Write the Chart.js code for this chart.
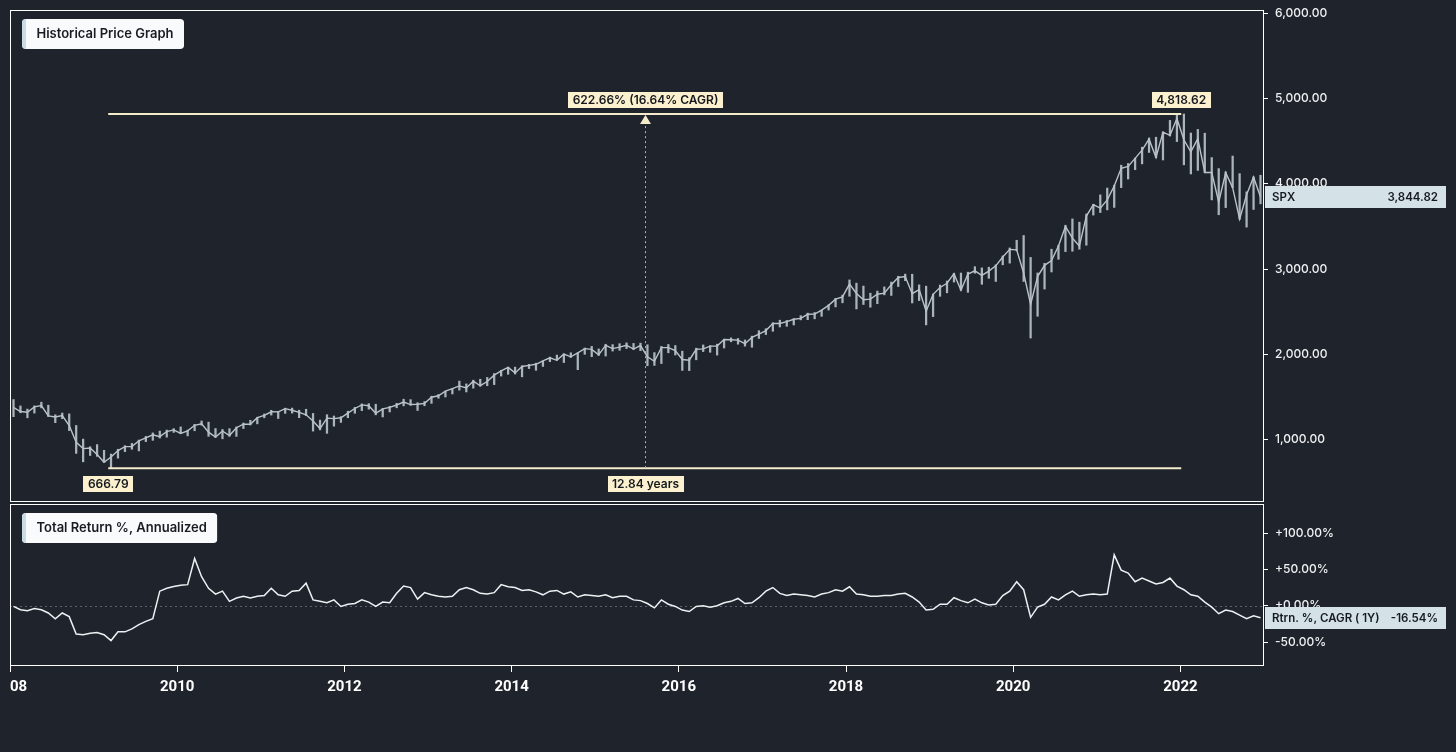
<!DOCTYPE html>
<html><head><meta charset="utf-8">
<script src="https://cdn.jsdelivr.net/npm/chart.js@4.4.1/dist/chart.umd.min.js"></script>
<style>
html,body{margin:0;padding:0;background:#1f232b;width:1456px;height:752px;overflow:hidden;}
canvas{position:absolute;left:10px;}
#c1{top:0;width:1446px;height:503px;}
#c2{top:503px;width:1446px;height:249px;}
</style></head><body>
<canvas id="c1" width="1446" height="503"></canvas>
<canvas id="c2" width="1446" height="249"></canvas>
<script>
// ---------------- DATA ----------------
const YEARS = [2008,2009,2010,2011,2012,2013,2014,2015,2016,2017,2018,2019,2020,2021,2022];
const X_TICKS = [2008,2010,2012,2014,2016,2018,2020,2022];
const PRICE_TICKS = [1000,2000,3000,4000,5000,6000];
const RETURN_TICKS = [-50,0,50,100];

// SPX monthly close (Jan..Dec per row)
const CLOSE = [
 1378,1330,1322,1385,1400,1280,1267,1283,1166,969,896,903,
 826,735,798,873,919,919,987,1021,1057,1036,1096,1115,
 1074,1104,1169,1187,1089,1031,1102,1049,1141,1183,1181,1258,
 1286,1327,1326,1364,1345,1321,1292,1219,1131,1253,1247,1258,
 1312,1366,1408,1398,1310,1362,1379,1407,1441,1412,1416,1426,
 1498,1515,1569,1598,1631,1606,1686,1633,1682,1757,1806,1848,
 1783,1859,1872,1884,1924,1960,1931,2003,1972,2018,2068,2059,
 1995,2105,2068,2086,2107,2063,2104,1972,1920,2079,2080,2044,
 1940,1932,2060,2065,2097,2099,2174,2171,2168,2126,2199,2239,
 2279,2364,2363,2384,2412,2423,2470,2472,2519,2575,2648,2674,
 2824,2714,2641,2648,2705,2718,2816,2902,2914,2712,2760,2507,
 2704,2784,2834,2946,2752,2942,2980,2926,2977,3038,3141,3231,
 3226,2954,2585,2912,3044,3100,3271,3500,3363,3270,3622,3756,
 3714,3811,3973,4181,4204,4298,4395,4523,4308,4605,4567,4766,
 4516,4374,4530,4132,4132,3785,4130,3955,3586,3872,4080,3844.82
];
// SPX monthly high
const HIGH = [
 1471,1396,1359,1397,1440,1405,1292,1313,1303,1167,1007,918,
 943,876,832,888,930,957,996,1039,1080,1101,1113,1130,
 1150,1112,1180,1220,1206,1131,1120,1130,1150,1196,1227,1263,
 1302,1345,1333,1370,1371,1346,1357,1308,1230,1293,1278,1270,
 1334,1379,1420,1423,1416,1365,1392,1427,1475,1470,1434,1448,
 1510,1530,1570,1598,1687,1654,1698,1709,1730,1776,1814,1850,
 1851,1867,1884,1897,1924,1968,1992,2006,2019,2019,2075,2094,
 2064,2119,2115,2126,2135,2129,2132,2113,2021,2094,2116,2104,
 2038,1962,2073,2111,2103,2120,2178,2194,2187,2169,2214,2278,
 2301,2371,2401,2398,2418,2454,2484,2491,2519,2582,2657,2695,
 2873,2835,2801,2718,2742,2791,2848,2916,2941,2940,2815,2800,
 2708,2813,2860,2950,2954,2964,3028,3014,3022,3050,3154,3248,
 3338,3394,3137,2955,3068,3233,3280,3514,3588,3550,3646,3760,
 3870,3950,3983,4218,4238,4302,4429,4537,4546,4608,4743,4808,
 4818,4595,4637,4593,4307,4178,4140,4325,4119,3906,4081,4100
];
// SPX monthly low
const LOW = [
 1270,1316,1257,1312,1373,1272,1200,1247,1107,840,741,815,
 805,735,667,784,860,888,869,978,993,1020,1030,1086,
 1071,1045,1105,1170,1040,1028,1011,1040,1039,1131,1173,1186,
 1257,1289,1249,1309,1312,1258,1282,1101,1115,1075,1159,1203,
 1258,1310,1341,1358,1292,1267,1326,1374,1397,1403,1343,1398,
 1426,1486,1501,1536,1581,1560,1604,1627,1633,1646,1746,1767,
 1770,1737,1834,1814,1859,1915,1930,1905,1964,1821,2001,1973,
 1988,1981,2039,2048,2068,2056,2044,1867,1871,1893,2019,1993,
 1812,1810,1937,2033,2025,1992,2075,2148,2120,2097,2084,2187,
 2233,2271,2322,2329,2345,2405,2407,2417,2446,2520,2557,2605,
 2682,2533,2585,2553,2594,2698,2691,2796,2864,2603,2631,2346,
 2443,2681,2722,2848,2750,2728,2952,2822,2892,2855,3050,3070,
 3214,2855,2192,2447,2766,2966,3115,3205,3209,3233,3280,3633,
 3663,3694,3723,3955,4056,4165,4233,4367,4306,4279,4560,4495,
 4222,4115,4157,4129,3811,3637,3721,3955,3584,3492,3699,3765
];
// 1-year total return %, annualized (monthly)
const RETURNS = [
 -1,-5.5,-7,-4,-5.5,-10,-18,-10,-15,-39,-40,-38,
 -37,-40,-48,-36,-36,-32,-26,-21.5,-18,20,24,26.5,
 28,29,65,40,24,16,20,6,10.5,13,10.5,13,
 14,24,15,13,20,21,31,8,6,4,8,-1,
 2,3,8,5,-1,5,4,17,27,25,9,18,
 15,13,12,13,22,25,22,17,16,18,29,26,
 25,21,22,19,15,20,21,16,19,12,15,14,
 13,15,11,13,13,8,7,3,-3,8,2,-1,
 -6,-8,-1,0,-2,0,4,6,10,3,4,11,
 20,25,17,14,16,15,14,12,16,18,22,20,
 26,16,15,13,13,14,14,16,17,12,5,-6,
 -5,2,2,11,7,4,9,4,1,2,14,20,
 33,22,-16,-2,2,12,8,15,20,13,15,16,
 15,16,70,49,45,33,38,34,30,32,38,27,
 22,15,13,5,-2,-11,-6,-8,-13,-18,-14,-16.54
];

const LOW_DATE = 2009.175, LOW_VALUE = 666.79;
const HIGH_DATE = 2022.01, HIGH_VALUE = 4818.62;
const GROWTH_LABEL = '622.66% (16.64% CAGR)';
const SPAN_LABEL = '12.84 years';
const LAST_PRICE = 3844.82, LAST_RETURN = -16.54;
const X_MIN = 2008.0, X_MAX = 2023.0;

// ---------------- HELPERS ----------------
const xOf = i => YEARS[0] + (i + 0.5) / 12;
const fmtPrice = v => v.toLocaleString('en-US',{minimumFractionDigits:2,maximumFractionDigits:2});
const fmtPct = v => (v >= 0 ? '+' : '') + v.toFixed(2) + '%';

const framePlugin = {id:'frame', afterDraw(chart){
  const a = chart.chartArea, c = chart.ctx;
  c.save(); c.strokeStyle = '#ffffff'; c.lineWidth = 1;
  c.strokeRect(Math.round(a.left)+0.5, Math.round(a.top)+0.5, Math.round(a.right-a.left)-1, Math.round(a.bottom-a.top)-1);
  c.restore();
}};

function titlePlugin(text){
  return {id:'title_'+text.length, afterDatasetsDraw(chart){
    const a = chart.chartArea, c = chart.ctx;
    c.save();
    c.font = '600 13px Inter';
    const w = c.measureText(text).width + 25, h = 30;
    const x = a.left + 12, y = a.top + 9;
    c.beginPath(); c.roundRect(x, y, w, h, 4); c.clip();
    c.fillStyle = '#f8fafb'; c.fillRect(x, y, w, h);
    c.fillStyle = '#c9dce4'; c.fillRect(x, y, 4, h);
    c.fillStyle = '#181b21'; c.textBaseline = 'middle'; c.textAlign = 'left';
    c.fillText(text, x + 14.5, y + h/2 + 0.5);
    c.restore();
  }};
}

function tagBox(c, text, cx, cy){
  c.font = '600 12px Inter';
  const w = Math.round(c.measureText(text).width + 9), h = 16;
  c.fillStyle = '#fcf1cf';
  c.fillRect(Math.round(cx - w/2), Math.round(cy - h/2), w, h);
  c.fillStyle = '#15181d'; c.textAlign = 'center'; c.textBaseline = 'middle';
  c.fillText(text, cx, cy + 0.5);
}

const annotPlugin = {id:'annot', afterDatasetsDraw(chart){
  const xs = chart.scales.x, ys = chart.scales.y, c = chart.ctx;
  const x1 = xs.getPixelForValue(LOW_DATE), x2 = xs.getPixelForValue(HIGH_DATE);
  const yl = ys.getPixelForValue(LOW_VALUE), yh = ys.getPixelForValue(HIGH_VALUE);
  const xm = Math.round((x1 + x2) / 2) + 0.5;
  c.save();
  c.strokeStyle = '#f4ebcb'; c.lineWidth = 2;
  c.beginPath(); c.moveTo(x1, yh); c.lineTo(x2, yh); c.stroke();
  c.beginPath(); c.moveTo(x1, yl); c.lineTo(x2, yl); c.stroke();
  c.setLineDash([2,3]); c.lineWidth = 1; c.strokeStyle = '#bdb8a6';
  c.beginPath(); c.moveTo(xm, yl); c.lineTo(xm, yh + 10); c.stroke();
  c.setLineDash([]);
  c.fillStyle = '#f4ebcb';
  c.beginPath(); c.moveTo(xm, yh + 1); c.lineTo(xm - 5.5, yh + 10); c.lineTo(xm + 5.5, yh + 10); c.closePath(); c.fill();
  tagBox(c, GROWTH_LABEL, xm, yh - 14);
  tagBox(c, fmtPrice(HIGH_VALUE), x2, yh - 14);
  tagBox(c, fmtPrice(LOW_VALUE), x1, yl + 16);
  tagBox(c, SPAN_LABEL, xm, yl + 16);
  c.restore();
}};

function lastValuePlugin(name, value, text){
  return {id:'lv_'+name.length, afterDraw(chart){
    const a = chart.chartArea, c = chart.ctx;
    const y = Math.round(chart.scales.y.getPixelForValue(value));
    const left = Math.round(a.right) + 1, right = chart.width - 10, h = 22;
    c.save();
    c.fillStyle = '#d4e2e7';
    c.fillRect(left, y - h/2, right - left, h);
    c.fillStyle = '#161a20'; c.font = '600 11.5px Inter'; c.textBaseline = 'middle';
    c.textAlign = 'left'; c.fillText(name, left + 7, y + 0.5);
    c.textAlign = 'right'; c.fillText(text, right - 8, y + 0.5);
    c.restore();
  }};
}

const zeroLinePlugin = {id:'zero', beforeDatasetsDraw(chart){
  const a = chart.chartArea, c = chart.ctx;
  const y = Math.round(chart.scales.y.getPixelForValue(0)) + 0.5;
  c.save(); c.strokeStyle = '#5d636b'; c.lineWidth = 1; c.setLineDash([2,3]);
  c.beginPath(); c.moveTo(a.left, y); c.lineTo(a.right, y); c.stroke(); c.restore();
}};

function yAxis(min, max, ticks, fmt){
  return {
    type:'linear', position:'right', min, max,
    afterBuildTicks: s => { s.ticks = ticks.map(v => ({value:v})); },
    afterFit: s => { s.width = 192; s.paddingTop = 0; s.paddingBottom = 0; },
    grid:{drawOnChartArea:false, color:'#ffffff', tickLength:4, tickWidth:1},
    border:{display:false},
    ticks:{color:'#eef0f2', font:{family:'Inter', size:12, weight:'500'}, padding:7, callback: v => fmt(v)}
  };
}

Chart.defaults.font.family = 'Inter';

// ---------------- PRICE PANEL ----------------
new Chart(document.getElementById('c1'), {
  type:'line',
  data:{datasets:[
    {type:'line', data: CLOSE.map((v,i) => ({x:xOf(i), y:v})), borderColor:'#b9c3c9', borderWidth:1.4, pointRadius:0, tension:0, order:1},
    {type:'bar', data: LOW.map((v,i) => ({x:xOf(i), y:[v, HIGH[i]]})), backgroundColor:'#aab5bb', barThickness:1.6, order:2}
  ]},
  options:{
    responsive:false, animation:false, events:[],
    layout:{padding:{left:0, top:10, right:0, bottom:1}},
    plugins:{legend:{display:false}, tooltip:{enabled:false}},
    scales:{
      x:{type:'linear', min:X_MIN, max:X_MAX, display:false, offset:false},
      y: yAxis(270, 6037, PRICE_TICKS, fmtPrice)
    }
  },
  plugins:[annotPlugin, titlePlugin('Historical Price Graph'), framePlugin, lastValuePlugin('SPX', LAST_PRICE, fmtPrice(LAST_PRICE))]
});

// ---------------- RETURN PANEL ----------------
new Chart(document.getElementById('c2'), {
  type:'line',
  data:{datasets:[
    {data: RETURNS.map((v,i) => ({x:xOf(i), y:v})), borderColor:'#eef1f3', borderWidth:1.5, pointRadius:0, tension:0}
  ]},
  options:{
    responsive:false, animation:false, events:[],
    layout:{padding:{left:0, top:1, right:0, bottom:0}},
    plugins:{legend:{display:false}, tooltip:{enabled:false}},
    scales:{
      x:{type:'linear', min:X_MIN, max:X_MAX, position:'bottom', offset:false,
         afterBuildTicks: s => { s.ticks = X_TICKS.map(v => ({value:v})); },
         afterFit: s => { s.height = 86; s.paddingLeft = 0; s.paddingRight = 0; },
         grid:{drawOnChartArea:false, color:'#ffffff', tickLength:6, tickWidth:1},
         border:{display:false},
         ticks:{color:'#ffffff', font:{family:'Roboto', size:15, weight:'bold'}, padding:6, maxRotation:0, autoSkip:false, callback: v => String(v)}},
      y: yAxis(-83, 140, RETURN_TICKS, fmtPct)
    }
  },
  plugins:[zeroLinePlugin, titlePlugin('Total Return %, Annualized'), framePlugin, lastValuePlugin('Rtrn. %, CAGR ( 1Y)', LAST_RETURN, fmtPct(LAST_RETURN))]
});
</script>
</body></html>
